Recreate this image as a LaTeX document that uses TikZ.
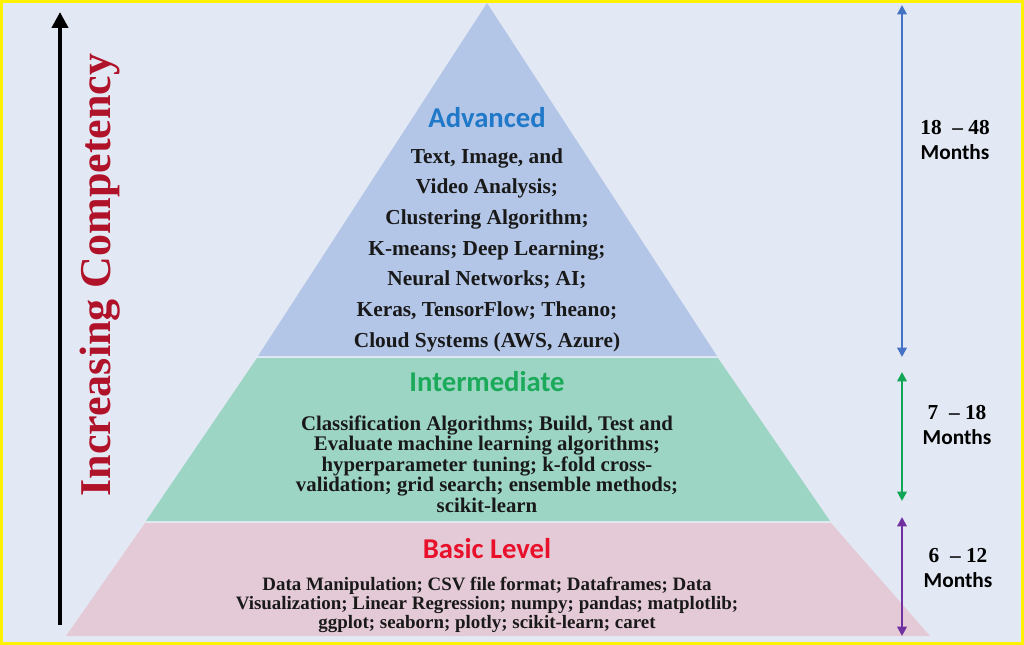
\documentclass[tikz,border=0pt]{standalone}
\usepackage{fontspec}
\setmainfont{Liberation Serif}
\newfontfamily\hd{Carlito}
\usetikzlibrary{arrows.meta}
\definecolor{bg}{HTML}{E3E9F4}
\definecolor{advc}{HTML}{B4C6E7}
\definecolor{intc}{HTML}{9DD5C4}
\definecolor{basc}{HTML}{E4CAD6}
\definecolor{adt}{HTML}{1F78C8}
\definecolor{int}{HTML}{1AAA5A}
\definecolor{bst}{HTML}{E8102A}
\definecolor{ar1}{HTML}{4472C4}
\definecolor{ar2}{HTML}{12A555}
\definecolor{ar3}{HTML}{7030A0}
\definecolor{comp}{HTML}{B0122A}
\tikzset{
 heading/.style={font=\hd\bfseries\fontsize{21.5}{24}\selectfont},
 body/.style={font=\bfseries\fontsize{16}{23}\selectfont, align=center, text=black!90},
 bodys/.style={font=\bfseries\fontsize{14.2}{14.5}\selectfont, align=center, text=black!90},
 span/.style={line width=2pt, {Triangle[width=7pt,length=7pt]}-{Triangle[width=7pt,length=7pt]}},
 months/.style={font=\hd\bfseries\fontsize{16}{19}\selectfont, align=center}
}
\begin{document}
\begin{tikzpicture}[x=0.75pt,y=-0.75pt]
\fill[yellow] (0,0) rectangle (1024,645);
\fill[bg] (3,3) rectangle (1021,642);
\useasboundingbox (0,0) rectangle (1024,645);
\fill[advc] (487,3) -- (717,356) -- (258,356) -- cycle;
\fill[intc] (257,358) -- (718,358) -- (830,521) -- (146,521) -- cycle;
\fill[basc] (145,523) -- (831,523) -- (930,636) -- (66,636) -- cycle;
\node[heading,text=adt] (ah) at (487,118) {Advanced};
\node[body] (ab) at (487,250) {Text, Image, and\\Video Analysis;\\Clustering Algorithm;\\K-means; Deep Learning;\\Neural Networks; AI;\\Keras, TensorFlow; Theano;\\Cloud Systems (AWS, Azure)};
\node[heading,text=int] (ih) at (487,382) {Intermediate};
\node[body,font=\bfseries\fontsize{15.6}{15.3}\selectfont] (ib) at (487,464) {Classification Algorithms; Build, Test and\\Evaluate machine learning algorithms;\\hyperparameter tuning; k-fold cross-\\validation; grid search; ensemble methods;\\scikit-learn};
\node[heading,text=bst] (bh) at (487,549) {Basic Level};
\node[bodys] (bb) at (487,605) {Data Manipulation; CSV file format; Dataframes; Data\\Visualization; Linear Regression; numpy; pandas; matplotlib;\\ggplot; seaborn; plotly; scikit-learn; caret};
\coordinate (l0) at (60,625); \coordinate (l1) at (60,12);
\draw[line width=3.5pt,-{Triangle[width=12pt,length=12pt]}] (l0) -- (l1);
\node[rotate=90,text=comp,font=\bfseries\fontsize{33}{36}\selectfont] (ic) at (100,275) {Increasing Competency};
\coordinate (a0) at (902,5); \coordinate (a1) at (902,357);
\coordinate (b0) at (902,372); \coordinate (b1) at (902,501);
\coordinate (c0) at (902,517); \coordinate (c1) at (902,636);
\draw[span,ar1] (a0) -- (a1);
\draw[span,ar2] (b0) -- (b1);
\draw[span,ar3] (c0) -- (c1);
\node[months] (m1) at (955,140) {{\rmfamily 18~~--~48}\\Months};
\node[months] (m2) at (957,425) {{\rmfamily 7~~--~18}\\Months};
\node[months] (m3) at (958,568) {{\rmfamily 6~~--~12}\\Months};
\end{tikzpicture}
\end{document}
